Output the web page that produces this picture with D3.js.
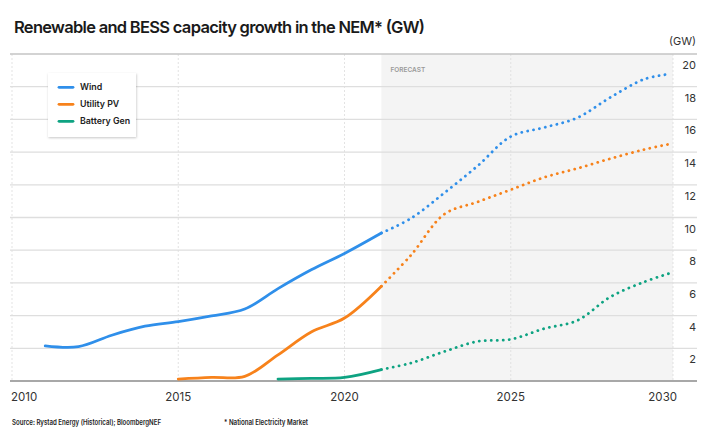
<!DOCTYPE html>
<html>
<head>
<meta charset="utf-8">
<script src="https://cdn.jsdelivr.net/npm/d3@7"></script>
<style>
  html, body { margin: 0; padding: 0; background: #fff; }
  svg { display: block; font-family: Inter, "Noto Sans", sans-serif; }
</style>
</head>
<body>
<svg id="chart" width="711" height="441"></svg>
<script>
// Capacity in GW, [year, value]; the last historical point is where the forecast starts
const forecastStart = 2021.11;

const windHist = [[2011, 2.15], [2012, 2.1], [2013, 2.8], [2014, 3.35], [2015, 3.63], [2016, 3.98],
    [2017, 4.4], [2018, 5.65], [2019, 6.8], [2020, 7.8], [forecastStart, 9.05]];
const windForecast = [[forecastStart, 9.05], [2022, 9.95], [2023, 11.5], [2024, 13.15], [2025, 14.95],
    [2026, 15.5], [2027, 16.1], [2028, 17.35], [2029, 18.45], [2029.7, 18.75]];

const pvHist = [[2015, 0.12], [2016, 0.22], [2017, 0.28], [2018, 1.6], [2019, 3.0], [2020, 3.85],
    [forecastStart, 5.8]];
const pvForecast = [[forecastStart, 5.8], [2022, 7.7], [2023, 10.2], [2024, 10.95], [2025, 11.7],
    [2026, 12.45], [2027, 13.0], [2028, 13.6], [2029, 14.15], [2029.8, 14.5]];

const batteryHist = [[2018, 0.12], [2019, 0.16], [2020, 0.22], [forecastStart, 0.7]];
const batteryForecast = [[forecastStart, 0.7], [2022, 1.1], [2023, 1.8], [2024, 2.42], [2025, 2.55],
    [2026, 3.2], [2027, 3.7], [2028, 5.15], [2029, 6.05], [2029.8, 6.6]];

const seriesNames = ['Wind', 'Utility PV', 'Battery Gen'];
const seriesColors = ['#2f8fea', '#f7821b', '#0ea382'];

const xTicks = [2010, 2015, 2020, 2025, 2030];
const yTicks = [2, 4, 6, 8, 10, 12, 14, 16, 18, 20];

const svg = d3.select('#chart');

const x = d3.scaleLinear().domain([2010, 2030]).range([12, 677]);
const y = d3.scaleLinear().domain([0, 20]).range([381, 54]);
const gridLeft = 10, gridRight = 697, shadeRight = 673;

// Forecast shading
svg.append('rect')
    .attr('x', x(forecastStart))
    .attr('y', y(20))
    .attr('width', shadeRight - x(forecastStart))
    .attr('height', y(0) - y(20))
    .attr('fill', '#f4f4f4');

svg.append('text')
    .attr('x', x(forecastStart) + 9)
    .attr('y', 72)
    .attr('font-size', 6.5)
    .attr('font-weight', 600)
    .attr('fill', '#9a9a9a')
    .text('FORECAST');

// Vertical dotted grid
const vLines = xTicks.slice(0, 4).map(d => x(d)).concat([shadeRight]);
svg.append('g').selectAll('line')
    .data(vLines)
    .join('line')
    .attr('x1', d => d).attr('x2', d => d)
    .attr('y1', y(20)).attr('y2', y(0))
    .attr('stroke', '#dcdcdc')
    .attr('stroke-width', 0.8)
    .attr('stroke-dasharray', '2,2');

// Horizontal grid
svg.append('g').selectAll('line')
    .data(yTicks)
    .join('line')
    .attr('x1', gridLeft).attr('x2', gridRight)
    .attr('y1', d => y(d)).attr('y2', d => y(d))
    .attr('stroke', d => d === 20 ? '#c4c4c4' : '#dedede')
    .attr('stroke-width', d => d === 20 ? 1.6 : 1.3);

// Bottom axis line
svg.append('line')
    .attr('x1', gridLeft).attr('x2', gridRight)
    .attr('y1', y(0)).attr('y2', y(0))
    .attr('stroke', '#a8a8a8')
    .attr('stroke-width', 2);

// Y labels sit just under their grid line
svg.append('g').selectAll('text')
    .data(yTicks)
    .join('text')
    .attr('x', 696)
    .attr('y', d => y(d) + 15)
    .attr('text-anchor', 'end')
    .attr('font-size', 11)
    .attr('fill', '#333')
    .text(d => d);

svg.append('text')
    .attr('x', 696)
    .attr('y', 45)
    .attr('text-anchor', 'end')
    .attr('font-size', 11)
    .attr('fill', '#333')
    .text('(GW)');

// X labels
svg.append('g').selectAll('text')
    .data(xTicks)
    .join('text')
    .attr('x', (d, i) => i === 0 ? x(d) - 1 : x(d))
    .attr('y', 401)
    .attr('text-anchor', (d, i) => i === 0 ? 'start' : i === xTicks.length - 1 ? 'end' : 'middle')
    .attr('font-size', 11.5)
    .attr('fill', '#333')
    .text(d => d);

// Lines
const line = d3.line()
    .x(d => x(d[0]))
    .y(d => y(d[1]))
    .curve(d3.curveCatmullRom.alpha(0.5));

const hist = [windHist, pvHist, batteryHist];
const forecast = [windForecast, pvForecast, batteryForecast];

forecast.forEach((s, i) => {
    svg.append('path')
        .datum(s)
        .attr('fill', 'none')
        .attr('stroke', seriesColors[i])
        .attr('stroke-width', 2.8)
        .attr('stroke-linecap', 'round')
        .attr('stroke-dasharray', '0.1,5.9')
        .attr('d', line);
});

hist.forEach((s, i) => {
    svg.append('path')
        .datum(s)
        .attr('fill', 'none')
        .attr('stroke', seriesColors[i])
        .attr('stroke-width', 2.8)
        .attr('stroke-linecap', 'round')
        .attr('d', line);
});

// Legend
const defs = svg.append('defs');
const shadow = defs.append('filter').attr('id', 'shadow')
    .attr('x', '-20%').attr('y', '-20%').attr('width', '140%').attr('height', '140%');
shadow.append('feDropShadow')
    .attr('dx', 0.5).attr('dy', 1)
    .attr('stdDeviation', 1.2)
    .attr('flood-color', '#000')
    .attr('flood-opacity', 0.22);

const legend = svg.append('g').attr('transform', 'translate(48,73)');
legend.append('rect')
    .attr('width', 88).attr('height', 64)
    .attr('fill', '#fff')
    .attr('filter', 'url(#shadow)');

seriesNames.forEach((name, i) => {
    const row = legend.append('g').attr('transform', `translate(0,${14.3 + i * 17})`);
    row.append('line')
        .attr('x1', 11).attr('x2', 25)
        .attr('stroke', seriesColors[i])
        .attr('stroke-width', 2.8)
        .attr('stroke-linecap', 'round');
    row.append('text')
        .attr('x', 32)
        .attr('y', 3)
        .attr('font-size', 8.8)
        .attr('font-weight', 600)
        .attr('fill', '#222')
        .text(name);
});

// Title
svg.append('text')
    .attr('x', 14)
    .attr('y', 33)
    .attr('font-size', 16.5)
    .attr('font-weight', 600)
    .attr('fill', '#1a1a1a')
    .attr('textLength', 411)
    .attr('lengthAdjust', 'spacing')
    .text('Renewable and BESS capacity growth in the NEM* (GW)');

// Footer
svg.append('text')
    .attr('x', 12)
    .attr('y', 425)
    .attr('font-size', 7.5)
    .attr('font-weight', 600)
    .attr('fill', '#222')
    .attr('textLength', 149)
    .attr('lengthAdjust', 'spacingAndGlyphs')
    .text('Source: Rystad Energy (Historical); BloombergNEF');

svg.append('text')
    .attr('x', 224)
    .attr('y', 425)
    .attr('font-size', 7.5)
    .attr('font-weight', 600)
    .attr('fill', '#222')
    .attr('textLength', 84)
    .attr('lengthAdjust', 'spacingAndGlyphs')
    .text('* National Electricity Market');
</script>
</body>
</html>
